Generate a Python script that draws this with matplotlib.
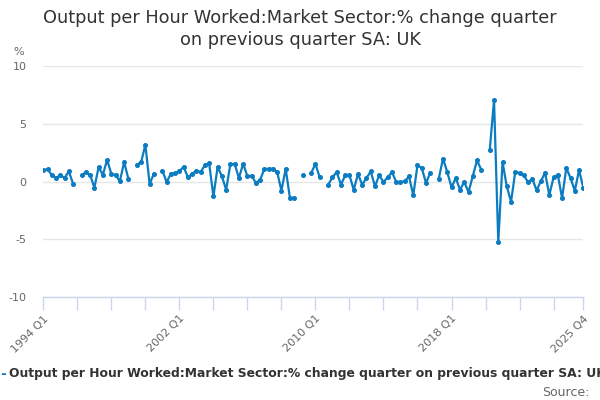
import numpy as np
import matplotlib.pyplot as plt

nan = np.nan

# quarterly values, 1994 Q1 .. 2025 Q4 (128 quarters)
valeurs = [
    0.93, 1.04, 0.50, 0.26, 0.52, 0.26, 0.84, -0.23,      # 1994-1995
    nan, 0.50, 0.76, 0.55, -0.58, 1.19, 0.55, 1.83,       # 1996-1997
    0.61, 0.52, -0.03, 1.65, 0.20, nan, 1.42, 1.63,       # 1998-1999
    3.16, -0.26, 0.63, nan, 0.90, -0.09, 0.63, 0.67,      # 2000-2001
    0.84, 1.24, 0.32, 0.61, 0.90, 0.78, 1.37, 1.54,       # 2002-2003
    -1.33, 1.24, 0.41, -0.76, 1.48, 1.48, 0.26, 1.50,     # 2004-2005
    0.41, 0.46, -0.17, 0.11, 1.07, 1.04, 1.07, 0.78,      # 2006-2007
    -0.84, 1.07, -1.48, -1.48, nan, 0.55, nan, 0.70,      # 2008-2009
    1.48, 0.32, nan, -0.32, 0.32, 0.78, -0.32, 0.50,      # 2010-2011
    0.50, -0.76, 0.61, -0.32, 0.26, 0.84, -0.46, 0.50,    # 2012-2013
    -0.09, 0.32, 0.78, -0.09, -0.09, -0.03, 0.41, -1.24,  # 2014-2015
    1.37, 1.13, -0.17, 0.70, nan, 0.20, 1.94, 0.78,       # 2016-2017
    -0.55, 0.26, -0.76, -0.09, -0.96, 0.41, 1.80, 0.98,   # 2018-2019
    nan, 2.72, 7.02, -5.30, 1.63, -0.46, -1.80, 0.81,     # 2020-2021
    0.67, 0.50, -0.11, 0.20, -0.81, -0.03, 0.72, -1.22,   # 2022-2023
    0.32, 0.55, -1.48, 1.13, 0.26, -0.84, 0.96, -0.61,    # 2024-2025
]
valeurs = np.array(valeurs) + 0.05

trimestres = []
for annee in range(1994, 2026):
    for q in range(1, 5):
        trimestres.append('%d Q%d' % (annee, q))
x = np.arange(len(trimestres))

labels_affiches = ['1994 Q1', '2002 Q1', '2010 Q1', '2018 Q1', '2025 Q4']
titre = 'Output per Hour Worked:Market Sector:% change quarter\non previous quarter SA: UK'
nom_serie = 'Output per Hour Worked:Market Sector:% change quarter on previous quarter SA: UK'

bleu = '#0b7cc1'
gris_texte = '#666666'

fig = plt.figure(figsize=(6, 4), dpi=100)
ax = fig.add_axes([0.0722, 0.258, 0.9, 0.576])

ax.plot(x, valeurs, color=bleu, lw=1.6, marker='o', ms=2.6, zorder=3)

ax.set_xlim(0, 127)
ax.set_ylim(-10, 10)
ax.set_yticks([-10, -5, 0, 5, 10])
ax.set_yticklabels(['-10', '-5', '0', '5', '10'])
ax.yaxis.grid(True, color='#e6e6e6', lw=1)
ax.set_axisbelow(True)

pos_ticks = list(range(0, 128, 8)) + [127]
ax.set_xticks(pos_ticks)
ax.set_xticklabels([trimestres[p] if trimestres[p] in labels_affiches else '' for p in pos_ticks],
                   rotation=45, ha='right', rotation_mode='anchor')

for s in ['top', 'right', 'left']:
    ax.spines[s].set_visible(False)
ax.spines['bottom'].set_color('#ccd6eb')
ax.spines['bottom'].set_linewidth(1)
ax.tick_params(axis='x', colors='#ccd6eb', length=9, width=1, labelcolor=gris_texte,
               labelsize=8, pad=3)
ax.tick_params(axis='y', length=0, labelcolor=gris_texte, labelsize=8, pad=12)

fig.text(0.5, 0.978, titre, ha='center', va='top', fontsize=12.8, color='#333333',
         linespacing=1.3)
fig.text(0.023, 0.87, '%', ha='left', va='center', fontsize=8, color=gris_texte)

# legend line is cut by the right edge, as on the original
fig.text(0.0, 0.065, '-', ha='left', va='center', fontsize=10, color=bleu, fontweight='bold')
fig.text(0.015, 0.065, nom_serie, ha='left', va='center', fontsize=8.9,
         color='#333333', fontweight='bold')
fig.text(0.982, 0.02, 'Source:', ha='right', va='center', fontsize=9, color=gris_texte)

fig.savefig('out.png', dpi=100)
